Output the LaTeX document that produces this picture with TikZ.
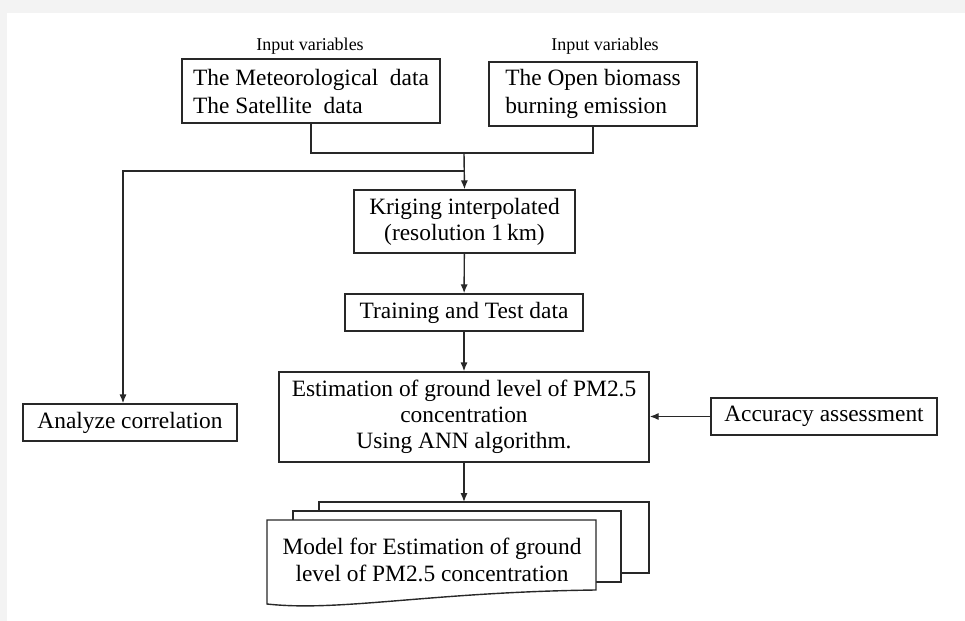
\documentclass[tikz,border=0pt]{standalone}
\usepackage{fontspec}
\setmainfont{Liberation Serif}
\usetikzlibrary{arrows.meta}

\definecolor{pagegray}{RGB}{243,243,243}
\definecolor{boxline}{RGB}{40,40,40}

\tikzset{
  flowbox/.style={draw=boxline, line width=0.7pt, inner sep=0pt, align=center,
    font=\fontsize{11.7}{13}\selectfont},
  inlabel/.style={font=\fontsize{9}{10}\selectfont},
  flowline/.style={draw=boxline, line width=0.7pt},
}

\begin{document}
\begin{tikzpicture}[x=0.5pt, y=-0.5pt, >={Latex[length=4.5pt,width=3.6pt]}]
      \useasboundingbox (0,0) rectangle (965,621);
      \fill[pagegray] (0,0) rectangle (965,621);
      \fill[white] (7,13) rectangle (965,621);

      % inputs
      \node[inlabel] (lab1) at (310,46) {Input variables};
      \node[inlabel] (lab2) at (605,46) {Input variables};
      \node[flowbox, minimum width=129pt, minimum height=32pt, align=left, font=\fontsize{11.7}{14}\selectfont] (met) at (311,91)
        {The Meteorological\ \ data\\The Satellite\ \ data};
      \node[flowbox, minimum width=104pt, minimum height=32pt, align=left, font=\fontsize{11.7}{14}\selectfont] (obe) at (593,94)
        {The Open biomass\\burning emission};

      \coordinate (join) at (464,153);
      \coordinate (split) at (464,171);
      \draw[flowline] (met.south) -- (met.south |- join) -- (obe.south |- join) -- (obe.south);

      % main chain
      \node[flowbox, minimum width=110.5pt, minimum height=31.5pt] (krig) at (464.5,221.5)
        {Kriging interpolated\\(resolution 1\,km)};
      \node[flowbox, minimum width=119pt, minimum height=18.5pt] (train) at (464,312.5)
        {Training and Test data};
      \node[flowbox, minimum width=185pt, minimum height=45pt] (est) at (464,417)
        {Estimation of ground level of PM2.5\\concentration\\Using ANN algorithm.};
      \node[flowbox, minimum width=107pt, minimum height=18.5pt] (corr) at (130,422.5)
        {Analyze correlation};
      \node[flowbox, minimum width=113pt, minimum height=18.5pt] (acc) at (824,416.5)
        {Accuracy assessment};

      \draw[flowline, ->] (join) -- (krig.north);
      \draw[flowline, ->] (split) -| ([xshift=-3.5pt]corr.north);
      \draw[flowline, ->] (krig) -- (train);
      \draw[flowline, ->] (train) -- (est);
      \draw[flowline, ->] (acc.west) -- (acc.west -| est.east);

      % stacked documents
      \draw[flowline, fill=white] (319,502) rectangle (649,573);
      \draw[flowline, fill=white] (293,511) rectangle (621,582);
      \draw[flowline, fill=white] (267,520) -- (596,520) -- (596,590)
        .. controls (430,592) and (340,612) .. (267,604) -- cycle;
      \coordinate (modeltop) at (464,502);
      \node[align=center, font=\fontsize{11.7}{13.5}\selectfont] (model) at (432,559.5)
        {Model for Estimation of ground\\level of PM2.5 concentration};
      \draw[flowline, ->] (est.south) -- (modeltop);
\end{tikzpicture}
\end{document}
